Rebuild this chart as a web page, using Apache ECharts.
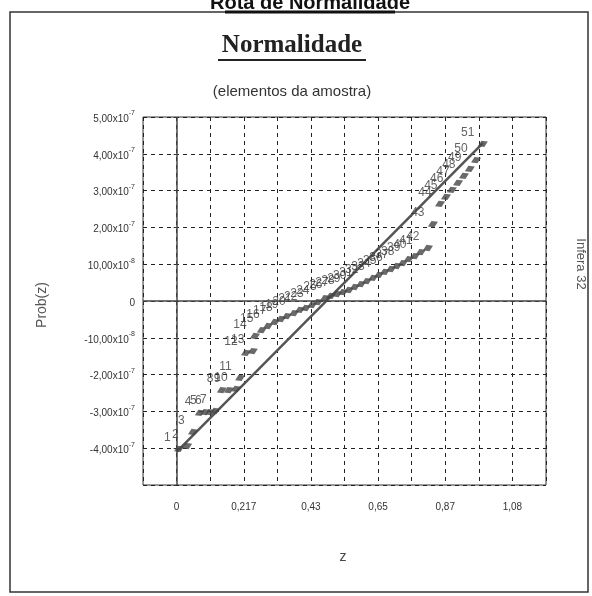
<!DOCTYPE html>
<html>
<head>
<meta charset="utf-8">
<script src="https://cdn.jsdelivr.net/npm/echarts@6/dist/echarts.min.js"></script>
<style>
  html, body { margin: 0; padding: 0; background: #fff; }
  #chart { width: 592px; height: 596px; }
</style>
</head>
<body>
<div id="chart"></div>
<script>
// valores (Prob em unidades de 1e-7)
var zValues = [0.008, 0.034, 0.053, 0.075, 0.092, 0.108, 0.124, 0.146, 0.169, 0.192,
	0.205, 0.224, 0.246, 0.253, 0.275, 0.295, 0.317, 0.337, 0.356, 0.379,
	0.398, 0.417, 0.437, 0.456, 0.479, 0.498, 0.518, 0.537, 0.556, 0.575,
	0.595, 0.614, 0.634, 0.653, 0.672, 0.692, 0.711, 0.730, 0.749, 0.769,
	0.788, 0.811, 0.827, 0.850, 0.869, 0.888, 0.908, 0.927, 0.946, 0.966, 0.988];
var probValues = [-4.02, -3.94, -3.56, -3.04, -3.02, -3.02, -2.99, -2.42, -2.42, -2.39,
	-2.09, -1.41, -1.36, -0.95, -0.79, -0.68, -0.57, -0.49, -0.41, -0.33,
	-0.24, -0.19, -0.11, -0.03, 0.08, 0.14, 0.19, 0.24, 0.30, 0.38,
	0.46, 0.54, 0.63, 0.71, 0.79, 0.87, 0.95, 1.03, 1.14, 1.22,
	1.33, 1.44, 2.09, 2.64, 2.83, 3.02, 3.21, 3.40, 3.59, 3.83, 4.27];
var lineZ = [0, 0.988];
var lineProb = [-4.10, 4.29];

var xTickLabels = ['0', '0,217', '0,43', '0,65', '0,87', '1,08'];
var yTickValues = [-4, -3, -2, -1, 0, 1, 2, 3, 4, 5];
var yTickBase = ['-4,00x10', '-3,00x10', '-2,00x10', '-10,00x10', '0', '10,00x10', '2,00x10', '3,00x10', '4,00x10', '5,00x10'];
var yTickExp = ['-7', '-7', '-7', '-8', '', '-8', '-7', '-7', '-7', '-7'];

var xStep = 1.3 / 12;

var points = [];
for (var i = 0; i < zValues.length; i++) {
	points.push([zValues[i], probValues[i]]);
}
var linePts = [];
for (var j = 0; j < lineZ.length; j++) {
	linePts.push([lineZ[j], lineProb[j]]);
}

var myChart = echarts.init(document.getElementById('chart'));

var option = {
	backgroundColor: '#fff',
	animation: false,
	grid: {
		left: 143,
		right: 46,
		top: 117,
		bottom: 111,
		show: true,
		borderColor: '#333',
		borderWidth: 1
	},
	xAxis: {
		type: 'value',
		min: -xStep,
		max: 11 * xStep,
		interval: xStep,
		axisLine: { show: false },
		axisTick: { show: true, length: 3, inside: false, lineStyle: { color: '#333' } },
		splitLine: { show: true, lineStyle: { color: '#222', type: [4, 4], width: 1 } },
		axisLabel: {
			margin: 17,
			fontFamily: 'Arial',
			fontSize: 10,
			color: '#333',
			formatter: function(v) {
				var k = Math.round(v / xStep);
				if (k < 0 || k % 2 !== 0 || k / 2 >= xTickLabels.length) return '';
				return xTickLabels[k / 2];
			}
		}
	},
	yAxis: {
		type: 'value',
		min: -5,
		max: 5,
		interval: 1,
		axisLine: { show: false },
		axisTick: { show: true, length: 3, lineStyle: { color: '#333' } },
		splitLine: { show: true, lineStyle: { color: '#222', type: [4, 4], width: 1 } },
		axisLabel: {
			margin: 8,
			fontFamily: 'Arial',
			color: '#333',
			formatter: function(v) {
				var k = yTickValues.indexOf(Math.round(v));
				if (k < 0) return '';
				if (yTickExp[k] === '') return '{b|' + yTickBase[k] + '}';
				return '{b|' + yTickBase[k] + '}{e|' + yTickExp[k] + '}';
			},
			rich: {
				b: { fontSize: 10, fontFamily: 'Arial', color: '#333', verticalAlign: 'bottom', lineHeight: 14 },
				e: { fontSize: 7, fontFamily: 'Arial', color: '#333', verticalAlign: 'top', lineHeight: 14, padding: [0, 0, 8, 0] }
			}
		}
	},
	series: [{
			type: 'line',
			data: [],
			silent: true,
			markLine: {
				silent: true,
				symbol: 'none',
				label: { show: false },
				lineStyle: { color: '#444', type: 'solid', width: 1.5 },
				data: [{ xAxis: 0 }, { yAxis: 0 }]
			}
		},
		{
			//			reta
			type: 'line',
			data: linePts,
			symbol: 'none',
			silent: true,
			lineStyle: { color: '#555', width: 2.5 },
			z: 3
		},
		{
			type: 'scatter',
			data: points,
			symbol: 'diamond',
			symbolSize: [11, 7],
			symbolRotate: 25,
			itemStyle: { color: '#454545' },
			z: 4,
			label: {
				show: true,
				position: 'left',
				offset: [3, -11],
				fontFamily: 'Arial',
				fontSize: 12,
				color: '#3a3a3a',
				formatter: function(p) {
					return String(p.dataIndex + 1);
				}
			}
		}
	],
	graphic: [{
			type: 'rect',
			shape: { x: 10, y: 12, width: 578, height: 580 },
			style: { fill: 'none', stroke: '#333', lineWidth: 1.5 },
			silent: true
		},
		{
			type: 'text',
			x: 310,
			y: 13,
			style: {
				text: 'Rota de Normalidade',
				fontFamily: 'Arial',
				fontWeight: 'bold',
				fontSize: 20,
				fill: '#111',
				textAlign: 'center',
				textVerticalAlign: 'bottom'
			}
		},
		{
			type: 'line',
			shape: { x1: 225, y1: 12, x2: 395, y2: 12 },
			style: { stroke: '#111', lineWidth: 3 }
		},
		{
			type: 'text',
			x: 292,
			y: 46,
			style: {
				text: 'Normalidade',
				fontFamily: 'Liberation Serif',
				fontWeight: 'bold',
				fontSize: 25,
				fill: '#222',
				textAlign: 'center',
				textVerticalAlign: 'middle'
			}
		},
		{
			type: 'line',
			shape: { x1: 218, y1: 60, x2: 366, y2: 60 },
			style: { stroke: '#222', lineWidth: 2 }
		},
		{
			type: 'text',
			x: 292,
			y: 92,
			style: {
				text: '(elementos da amostra)',
				fontFamily: 'Arial',
				fontSize: 15,
				fill: '#333',
				textAlign: 'center',
				textVerticalAlign: 'middle'
			}
		},
		{
			type: 'text',
			x: 42,
			y: 305,
			rotation: Math.PI / 2,
			style: {
				text: 'Prob(z)',
				fontFamily: 'Arial',
				fontSize: 14,
				fill: '#555',
				textAlign: 'center',
				textVerticalAlign: 'middle'
			}
		},
		{
			type: 'text',
			x: 343,
			y: 557,
			style: {
				text: 'z',
				fontFamily: 'Arial',
				fontSize: 14,
				fill: '#444',
				textAlign: 'center',
				textVerticalAlign: 'middle'
			}
		},
		{
			type: 'text',
			x: 581,
			y: 264,
			rotation: -Math.PI / 2,
			style: {
				text: 'Infera 32',
				fontFamily: 'Arial',
				fontSize: 13,
				fill: '#555',
				textAlign: 'center',
				textVerticalAlign: 'middle'
			}
		}
	]
};
myChart.setOption(option);
</script>
</body>
</html>
